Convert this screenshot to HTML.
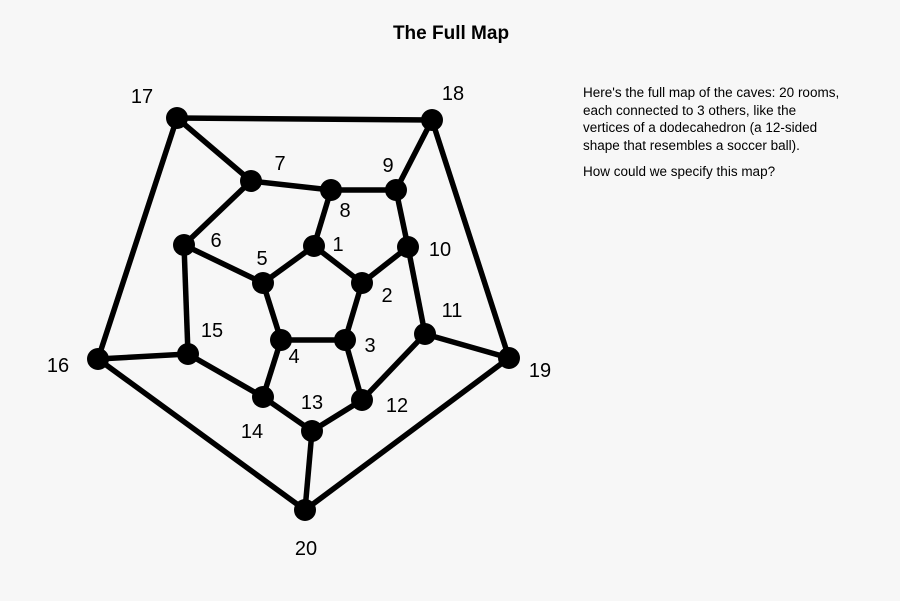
<!DOCTYPE html>
<html><head><meta charset="utf-8"><style>
body{margin:0;width:900px;height:601px;background:#f7f7f7;overflow:hidden;font-family:"Liberation Sans",sans-serif;}
#title{position:absolute;left:0;width:902px;top:23px;text-align:center;font-weight:bold;font-size:19px;color:#000;}
#desc{position:absolute;left:583px;top:84px;width:300px;font-size:13.5px;line-height:17.5px;color:#000;white-space:nowrap;}
#desc p{margin:0 0 9px 0;}
svg{position:absolute;left:0;top:0;}
</style></head><body>
<div id="title">The Full Map</div>
<div id="desc">
<p>Here's the full map of the caves: 20 rooms,<br>each connected to 3 others, like the<br>vertices of a dodecahedron (a 12-sided<br>shape that resembles a soccer ball).</p>
<p>How could we specify this map?</p></div>
<svg id="g" width="900" height="601"></svg>
<script>
const rooms=[1,2,3,4,5,6,7,8,9,10,11,12,13,14,15,16,17,18,19,20];
const nodeX=[314,362,345,281,263,184,251,331,396,408,425,362,312,263,188,98,177,432,509,305];
const nodeY=[246,283,340,340,283,245,181,190,190,247,334,400,431,397,354,359,118,120,358,510];
const labelX=[338,387,370,294,262,216,280,345,388,440,452,397,312,252,212,58,142,453,540,306];
const labelY=[244,295,345,356,258,240,163,210,165,249,310,405,402,431,330,365,96,93,370,548];
const edges=[[1,2],[2,3],[3,4],[4,5],[5,1],[1,8],[2,10],[3,12],[4,14],[5,6],[6,7],[7,8],[8,9],[9,10],[10,11],[11,12],[12,13],[13,14],[14,15],[15,6],[7,17],[9,18],[11,19],[13,20],[15,16],[16,17],[17,18],[18,19],[19,20],[20,16]];
const svg=document.getElementById('g');const NS='http://www.w3.org/2000/svg';
edges.forEach(e=>{const l=document.createElementNS(NS,'line');
l.setAttribute('x1',nodeX[e[0]-1]);l.setAttribute('y1',nodeY[e[0]-1]);
l.setAttribute('x2',nodeX[e[1]-1]);l.setAttribute('y2',nodeY[e[1]-1]);
l.setAttribute('stroke','#000');l.setAttribute('stroke-width','5.5');


svg.appendChild(l);});
rooms.forEach((r,i)=>{const c=document.createElementNS(NS,'circle');
c.setAttribute('cx',nodeX[i]);c.setAttribute('cy',nodeY[i]);c.setAttribute('r','11');c.setAttribute('fill','#000');


svg.appendChild(c);
const t=document.createElementNS(NS,'text');
t.setAttribute('x',labelX[i]);t.setAttribute('y',labelY[i]+7);t.setAttribute('text-anchor','middle');
t.setAttribute('font-size','20');t.setAttribute('font-family','Liberation Sans, sans-serif');t.textContent=r;


svg.appendChild(t);});
</script>
</body></html>
